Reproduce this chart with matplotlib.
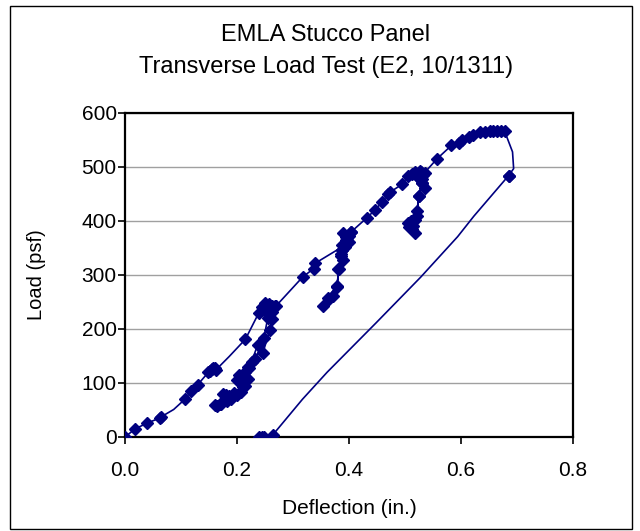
import matplotlib
matplotlib.use("Agg")
import matplotlib.pyplot as plt
from matplotlib.patches import Rectangle

plt.rcParams['font.family'] = ['Liberation Sans', 'DejaVu Sans']

# Main test record (deflection in., load psf), in test order
defl = [0.000, 0.018, 0.040, 0.062, 0.064, 0.087, 0.107, 0.118, 0.130,
        0.149, 0.152, 0.155, 0.158, 0.160, 0.163, 0.186,
        0.215, 0.239, 0.245, 0.250, 0.255, 0.260, 0.266, 0.268, 0.262, 0.255, 0.250,
        0.262, 0.259, 0.246, 0.237, 0.226, 0.219, 0.215, 0.210, 0.204, 0.200, 0.207,
        0.215, 0.208, 0.195, 0.186, 0.180, 0.175, 0.171, 0.165, 0.160,
        0.170, 0.182, 0.190, 0.200, 0.210, 0.219, 0.222, 0.233, 0.248, 0.255, 0.252,
        0.258, 0.262, 0.270,
        0.317, 0.337, 0.340, 0.383, 0.387, 0.390, 0.394, 0.397, 0.400, 0.404,
        0.388, 0.390, 0.386, 0.381, 0.379, 0.372, 0.364, 0.353,
        0.362, 0.378, 0.383, 0.386, 0.388, 0.392, 0.395, 0.400, 0.404,
        0.432, 0.447, 0.459, 0.470, 0.474, 0.495, 0.506, 0.512, 0.518, 0.522, 0.526,
        0.528, 0.532, 0.535, 0.530, 0.524,
        0.535, 0.530, 0.525, 0.521, 0.517, 0.510, 0.506, 0.508, 0.514, 0.517, 0.512,
        0.516, 0.521, 0.525, 0.530, 0.532,
        0.557, 0.583, 0.596, 0.601, 0.615, 0.621, 0.634, 0.642, 0.652, 0.658,
        0.665, 0.672, 0.678,
        0.692, 0.694, 0.685]
load = [0, 15, 26, 35, 37, 51, 70, 85, 97,
        120, 123, 126, 127, 128, 125, 149,
        181, 230, 240, 248, 245, 238, 240, 243, 232, 228, 240,
        218, 199, 155, 171, 139, 130, 120, 112, 114, 105, 100,
        95, 83, 82, 76, 78, 80, 61, 58, 59,
        62, 67, 70, 77, 92, 108, 127, 145, 183, 221, 235,
        246, 243, 243,
        296, 312, 322, 349, 356, 377, 370, 368, 362, 380,
        346, 327, 338, 312, 277, 262, 255, 243,
        258, 280, 312, 335, 346, 352, 365, 372, 380,
        406, 421, 435, 450, 454, 468, 484, 487, 490, 484, 492,
        490, 487, 488, 478, 482,
        462, 470, 446, 418, 402, 400, 396, 388, 390, 377, 385,
        402, 410, 446, 470, 486,
        515, 540, 545, 550, 556, 559, 564, 565, 567, 566,
        567, 567, 566,
        528, 497, 484]
# readings drawn without a marker (bends of the smoothed line)
unmarked_defl = [0.087, 0.186, 0.383, 0.692, 0.694]
unmarked_load = [51, 149, 349, 528, 497]

# Unloading branch
unload_defl = [0.685, 0.623, 0.594, 0.528, 0.448, 0.361, 0.317, 0.264, 0.248, 0.244, 0.240]
unload_load = [484, 409, 371, 296, 211, 120, 70, 4, 0, 0, 0]
unload_marked = [0, 7, 8, 9, 10]

xlabel = "Deflection (in.)"
ylabel = "Load (psf)"
xticks = [0.0, 0.2, 0.4, 0.6, 0.8]
yticks = [0, 100, 200, 300, 400, 500, 600]

navy = "#000080"

fig = plt.figure(figsize=(6.4, 5.31), dpi=100)
fig.patch.set_facecolor("white")
fig.add_artist(Rectangle((10/640, 1-529/531), 622/640, 523/531, transform=fig.transFigure,
                         fill=False, edgecolor="black", linewidth=1.0))

ax = fig.add_axes([125/640, 1-437/531, 448/640, 324/531])
skip = set(zip(unmarked_defl, unmarked_load))
marked = [i for i, p in enumerate(zip(defl, load)) if p not in skip]
ax.plot(defl, load, color=navy, linewidth=1.2, marker='D', markersize=6,
        markevery=marked, zorder=3)
ax.plot(unload_defl, unload_load, color=navy, linewidth=1.2, marker='D', markersize=6,
        markevery=unload_marked, zorder=3)

ax.set_xlim(0, 0.8)
ax.set_ylim(0, 600)
ax.set_xticks(xticks)
ax.set_xticklabels([f"{v:.1f}" for v in xticks])
ax.set_yticks(yticks)
ax.set_yticklabels([str(v) for v in yticks])
ax.yaxis.grid(True, color="#a0a0a0", linewidth=1.0)
ax.set_axisbelow(True)
for s in ax.spines.values():
    s.set_linewidth(1.6)
    s.set_color("black")
ax.tick_params(axis='both', direction='out', length=5, width=1.2, labelsize=15)
ax.tick_params(axis='x', pad=12)
ax.tick_params(axis='y', pad=1)
ax.set_xlabel(xlabel, fontsize=15)
ax.set_ylabel(ylabel, fontsize=14.5)
ax.xaxis.set_label_coords(0.5, (437-508)/324)
ax.yaxis.set_label_coords((36-125)/448, 0.5)
ax.xaxis.label.set_va('center')
ax.yaxis.label.set_va('center')

fig.text(0.5 + 6/640, 1-35/531, "EMLA Stucco Panel", ha='center', va='center', fontsize=17)
fig.text(0.5 + 6/640, 1-67/531, "Transverse Load Test (E2, 10/1311)", ha='center', va='center', fontsize=17)

fig.savefig("out.png", dpi=100, facecolor="white")
